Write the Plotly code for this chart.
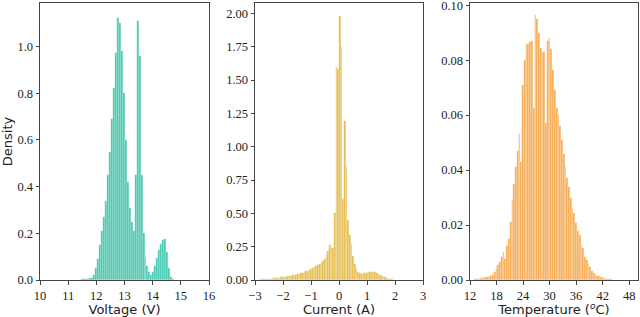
import plotly.graph_objects as go
from plotly.subplots import make_subplots

# ---- Voltage histogram (density), bins of 0.07 V
volt_bin_start = 11.435
volt_bin_width = 0.07
volt_density = [
    0.002, 0.003, 0.004, 0.005, 0.006, 0.008, 0.010, 0.020, 0.050, 0.090,
    0.150, 0.210, 0.270, 0.340, 0.450, 0.550, 0.690, 0.820, 0.970, 1.120,
    1.100, 0.980, 0.800, 0.600, 0.420, 0.310, 0.250, 0.210, 0.450, 1.110,
    0.960, 0.450, 0.200, 0.100, 0.060, 0.035, 0.022, 0.035, 0.060, 0.095,
    0.130, 0.155, 0.170, 0.175, 0.120, 0.050, 0.012, 0.004, 0.002, 0.001,
]

# ---- Current histogram (density), bins of 0.06 A
curr_bin_start = -2.85
curr_bin_width = 0.06
curr_density = [
    0.003, 0.004, 0.005, 0.006, 0.007, 0.008, 0.009, 0.010, 0.011, 0.012,
    0.014, 0.016, 0.018, 0.020, 0.022, 0.024, 0.026, 0.028, 0.030, 0.032,
    0.035, 0.037, 0.040, 0.042, 0.046, 0.050, 0.054, 0.059, 0.064, 0.070,
    0.076, 0.083, 0.090, 0.097, 0.105, 0.113, 0.120, 0.128, 0.140, 0.155,
    0.185, 0.215, 0.265, 0.240, 0.240, 0.500, 1.600, 1.580, 1.980, 1.750,
    0.610, 1.190, 0.850, 0.450, 0.340, 0.270, 0.180, 0.120, 0.080, 0.060,
    0.050, 0.048, 0.050, 0.052, 0.055, 0.058, 0.060, 0.062, 0.062, 0.058,
    0.050, 0.042, 0.036, 0.030, 0.024, 0.019, 0.014, 0.010, 0.007, 0.005,
    0.003, 0.002, 0.001,
]

# ---- Temperature histogram (density), bins of 0.4 degC
temp_bin_start = 13.2
temp_bin_width = 0.4
temp_density = [
    0.0003, 0.0004, 0.0005, 0.0006, 0.0008, 0.0009, 0.0010, 0.0012, 0.0013, 0.0015,
    0.0019, 0.0028, 0.0040, 0.0055, 0.0067, 0.0085, 0.0103, 0.0078, 0.0122, 0.0148,
    0.0210, 0.0290, 0.0350, 0.0410, 0.0470, 0.0530, 0.0430, 0.0710, 0.0800, 0.0860,
    0.0860, 0.0865, 0.0870, 0.0625, 0.0965, 0.0950, 0.0900, 0.0843, 0.0830, 0.0830,
    0.0570, 0.0870, 0.0880, 0.0840, 0.0765, 0.0690, 0.0625, 0.0600, 0.0560, 0.0510,
    0.0460, 0.0410, 0.0370, 0.0340, 0.0300, 0.0260, 0.0243, 0.0206, 0.0180, 0.0165,
    0.0123, 0.0115, 0.0085, 0.0073, 0.0060, 0.0048, 0.0033, 0.0025, 0.0020, 0.0016,
    0.0013, 0.0010, 0.0008, 0.0006, 0.0004, 0.0003, 0.0002, 0.0002, 0.0001, 0.0001,
]

volt_ticks = [10, 11, 12, 13, 14, 15, 16]
curr_ticks = [-3, -2, -1, 0, 1, 2, 3]
curr_ticktext = ["\u22123", "\u22122", "\u22121", "0", "1", "2", "3"]
temp_ticks = [12, 18, 24, 30, 36, 42, 48]
volt_yticks = [0.0, 0.2, 0.4, 0.6, 0.8, 1.0]
curr_yticks = [0.0, 0.25, 0.5, 0.75, 1.0, 1.25, 1.5, 1.75, 2.0]
temp_yticks = [0.0, 0.02, 0.04, 0.06, 0.08, 0.10]

C_VOLT = "#48C9B0"
C_CURR = "#E6BE4E"
C_TEMP = "#F8AD55"

fig = make_subplots(rows=1, cols=3)

for col, (y, x0, dx, color) in enumerate([
    (volt_density, volt_bin_start, volt_bin_width, C_VOLT),
    (curr_density, curr_bin_start, curr_bin_width, C_CURR),
    (temp_density, temp_bin_start, temp_bin_width, C_TEMP),
], start=1):
    fig.add_trace(go.Bar(
        y=y, x0=x0, dx=dx, width=dx,
        marker=dict(color=color, line=dict(color="rgba(255,255,255,0.45)", width=0.4)),
        showlegend=False, hoverinfo="skip",
    ), row=1, col=col)

serif = "Liberation Serif, Times New Roman, serif"
sans = "DejaVu Sans, Arial, sans-serif"
axis_common = dict(
    showgrid=False, zeroline=False, showline=True, linecolor="#444444", linewidth=1,
    mirror=True, ticks="outside", ticklen=3.5, tickcolor="#444444", tickwidth=1,
    tickfont=dict(family=serif, size=12.5, color="#222222"),
    ticklabeloverflow="allow", automargin=False,
)
title_font = dict(family=sans, size=13, color="#222222")

x_domains = [[40 / 640, 209 / 640], [255 / 640, 423 / 640], [470 / 640, 638 / 640]]
y_domain = [1 - 280 / 317, 1 - 3 / 317]

fig.update_layout(
    width=640, height=317,
    margin=dict(l=0, r=0, t=0, b=0, autoexpand=False),
    plot_bgcolor="white", paper_bgcolor="white",
    bargap=0,
    xaxis=dict(axis_common, domain=x_domains[0], range=[10, 16], tickvals=volt_ticks,
               title=dict(text="Voltage (V)", font=title_font, standoff=3)),
    xaxis2=dict(axis_common, domain=x_domains[1], range=[-3, 3], tickvals=curr_ticks,
                ticktext=curr_ticktext,
                title=dict(text="Current (A)", font=title_font, standoff=3)),
    xaxis3=dict(axis_common, domain=x_domains[2], range=[12, 50], tickvals=temp_ticks,
                title=dict(text="Temperature (<sup><i>o</i></sup>C)", font=title_font, standoff=3)),
    yaxis=dict(axis_common, domain=y_domain, range=[0, 1.186], tickvals=volt_yticks, tickformat=".1f",
               title=dict(text="Density", font=title_font, standoff=2)),
    yaxis2=dict(axis_common, domain=y_domain, range=[0, 2.078], tickvals=curr_yticks, tickformat=".2f"),
    yaxis3=dict(axis_common, domain=y_domain, range=[0, 0.1008], tickvals=temp_yticks, tickformat=".2f"),
)

fig.write_html(
    "out.html",
    config={"displayModeBar": False},
    post_script="document.body.style.margin='0';document.body.style.padding='0';",
)
